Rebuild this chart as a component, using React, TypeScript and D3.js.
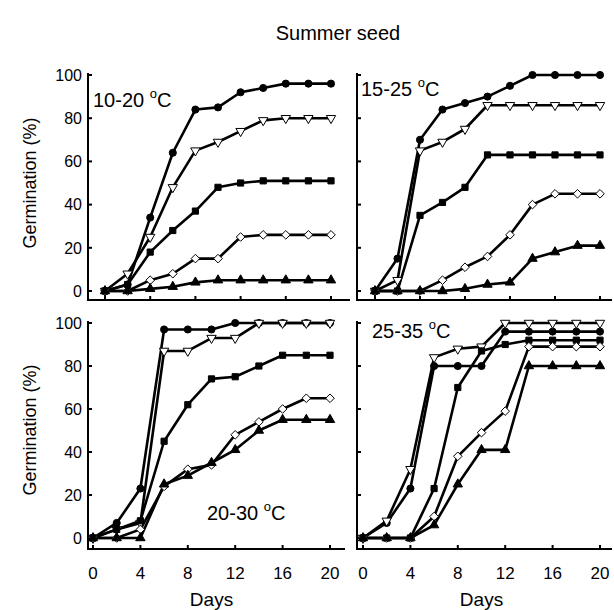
import React from "react";
import * as d3 from "d3";

const days = [0, 2, 4, 6, 8, 10, 12, 14, 16, 18, 20];
const xTicks = [0, 4, 8, 12, 16, 20];
const yTicks = [0, 20, 40, 60, 80, 100];
const seriesKeys = ["circle", "triDown", "square", "diamond", "triUp"];

// 10-20 °C
const p1Circle = [0, 3, 34, 64, 84, 85, 92, 94, 96, 96, 96];
const p1TriDown = [0, 8, 25, 48, 65, 69, 74, 79, 80, 80, 80];
const p1Square = [0, 3, 18, 28, 37, 48, 50, 51, 51, 51, 51];
const p1Diamond = [0, 0, 5, 8, 15, 15, 25, 26, 26, 26, 26];
const p1TriUp = [0, 0, 1, 2, 4, 5, 5, 5, 5, 5, 5];

// 15-25 °C
const p2Circle = [0, 15, 70, 84, 87, 90, 95, 100, 100, 100, 100];
const p2TriDown = [0, 5, 65, 69, 75, 86, 86, 86, 86, 86, 86];
const p2Square = [0, 0, 35, 41, 48, 63, 63, 63, 63, 63, 63];
const p2Diamond = [0, 0, 0, 5, 11, 16, 26, 40, 45, 45, 45];
const p2TriUp = [0, 0, 0, 0, 1, 3, 4, 15, 18, 21, 21];

// 20-30 °C
const p3Circle = [0, 7, 23, 97, 97, 97, 100, 100, 100, 100, 100];
const p3TriDown = [0, 4, 7, 87, 87, 93, 93, 100, 100, 100, 100];
const p3Square = [0, 4, 8, 45, 62, 74, 75, 80, 85, 85, 85];
const p3Diamond = [0, 0, 4, 24, 32, 34, 48, 54, 60, 65, 65];
const p3TriUp = [0, 0, 0, 25, 29, 35, 41, 50, 55, 55, 55];

// 25-35 °C
const p4Circle = [0, 7, 23, 80, 80, 80, 96, 96, 96, 96, 96];
const p4TriDown = [0, 8, 32, 84, 88, 89, 100, 100, 100, 100, 100];
const p4Square = [0, 0, 0, 23, 70, 87, 90, 92, 92, 92, 92];
const p4Diamond = [0, 0, 0, 10, 38, 49, 59, 89, 89, 89, 89];
const p4TriUp = [0, 0, 0, 6, 25, 41, 41, 80, 80, 80, 80];

const panelLabels = ["10-20", "15-25", "20-30", "25-35"];

const font = "Liberation Sans, Arial, sans-serif";

type PanelProps = {
  label: string;
  series: number[][];
  xRange: [number, number];
  yRange: [number, number];
  axisX: number;
  axisY: number;
  axisRight: number;
  showYLabels: boolean;
  showXLabels: boolean;
  labelPos: [number, number];
};

const markerPath = (kind: string) => {
  if (kind === "circle") return d3.symbol(d3.symbolCircle, 40)();
  if (kind === "square") return d3.symbol(d3.symbolSquare, 38)();
  if (kind === "triUp" || kind === "triDown") return d3.symbol(d3.symbolTriangle, 38)();
  // wider diamond than d3's default
  const p = d3.path();
  p.moveTo(0, -4.3);
  p.lineTo(4.3, 0);
  p.lineTo(0, 4.3);
  p.lineTo(-4.3, 0);
  p.closePath();
  return p.toString();
};

const Panel = (props: PanelProps) => {
  const x = d3.scaleLinear().domain([0, 20]).range(props.xRange);
  const y = d3.scaleLinear().domain([0, 100]).range(props.yRange);
  const line = d3
    .line<number>()
    .x((d, i) => x(days[i]))
    .y((d) => y(d));

  return (
    <g>
      {/* axes */}
      <line x1={props.axisX} x2={props.axisX} y1={y(100) - 2} y2={props.axisY} stroke="#000" strokeWidth={2} />
      <line x1={props.axisX - 1} x2={props.axisRight} y1={props.axisY} y2={props.axisY} stroke="#000" strokeWidth={2} />
      {yTicks.map((t) => (
        <g key={"y" + t}>
          <line x1={props.axisX} x2={props.axisX + 4} y1={y(t)} y2={y(t)} stroke="#000" strokeWidth={2} />
          {props.showYLabels && (
            <text x={props.axisX - 6} y={y(t)} dy="0.36em" textAnchor="end" fontSize={16} fontFamily={font}>
              {t}
            </text>
          )}
        </g>
      ))}
      {xTicks.map((t) => (
        <g key={"x" + t}>
          <line x1={x(t)} x2={x(t)} y1={props.axisY} y2={props.axisY - 4} stroke="#000" strokeWidth={2} />
          {props.showXLabels && (
            <text x={x(t)} y={props.axisY + 30} textAnchor="middle" fontSize={17} fontFamily={font}>
              {t}
            </text>
          )}
        </g>
      ))}
      {props.showXLabels && (
        <text x={(props.xRange[0] + props.xRange[1]) / 2} y={props.axisY + 57} textAnchor="middle" fontSize={19} fontFamily={font}>
          Days
        </text>
      )}

      {/* lines */}
      {props.series.map((s, i) => (
        <path key={"l" + i} d={line(s) || ""} fill="none" stroke="#000" strokeWidth={2.6} strokeLinejoin="round" />
      ))}

      {/* markers */}
      {props.series.map((s, i) => {
        const kind = seriesKeys[i];
        const open = kind === "triDown" || kind === "diamond";
        const d = markerPath(kind);
        return (
          <g key={"m" + i}>
            {s.map((v, j) => (
              <path
                key={j}
                d={d}
                transform={`translate(${x(days[j])},${y(v)})${kind === "triDown" ? " rotate(180)" : ""}`}
                fill={open ? "#fff" : "#000"}
                stroke="#000"
                strokeWidth={1}
              />
            ))}
          </g>
        );
      })}

      <text x={props.labelPos[0]} y={props.labelPos[1]} fontSize={20} fontFamily={font}>
        {props.label + " "}
        <tspan fontSize={13} dy={-9}>o</tspan>
        <tspan dy={9}>C</tspan>
      </text>
    </g>
  );
};

export default function App() {
  const width = 614;
  const height = 610;
  return (
    <svg width={width} height={height} style={{ position: "absolute", left: 0, top: 0, background: "#fff" }}>
      <rect width={width} height={height} fill="#fff" />
      <text x={338} y={40} textAnchor="middle" fontSize={20} fontFamily={font}>
        Summer seed
      </text>
      <text transform="translate(36,183) rotate(-90)" textAnchor="middle" fontSize={18} fontFamily={font}>
        Germination (%)
      </text>
      <text transform="translate(36,430) rotate(-90)" textAnchor="middle" fontSize={18} fontFamily={font}>
        Germination (%)
      </text>

      <Panel
        label={panelLabels[0]}
        series={[p1Circle, p1TriDown, p1Square, p1Diamond, p1TriUp]}
        xRange={[105, 331]}
        yRange={[291, 75]}
        axisX={88}
        axisY={300}
        axisRight={350}
        showYLabels={true}
        showXLabels={false}
        labelPos={[93, 107]}
      />
      <Panel
        label={panelLabels[1]}
        series={[p2Circle, p2TriDown, p2Square, p2Diamond, p2TriUp]}
        xRange={[375, 600]}
        yRange={[291, 75]}
        axisX={357}
        axisY={300}
        axisRight={612}
        showYLabels={false}
        showXLabels={false}
        labelPos={[361, 96]}
      />
      <Panel
        label={panelLabels[2]}
        series={[p3Circle, p3TriDown, p3Square, p3Diamond, p3TriUp]}
        xRange={[93, 330]}
        yRange={[538, 323]}
        axisX={88}
        axisY={549}
        axisRight={345}
        showYLabels={true}
        showXLabels={true}
        labelPos={[207, 520]}
      />
      <Panel
        label={panelLabels[3]}
        series={[p4Circle, p4TriDown, p4Square, p4Diamond, p4TriUp]}
        xRange={[363, 600]}
        yRange={[538, 323]}
        axisX={357}
        axisY={549}
        axisRight={612}
        showYLabels={false}
        showXLabels={true}
        labelPos={[372, 338]}
      />
    </svg>
  );
}
